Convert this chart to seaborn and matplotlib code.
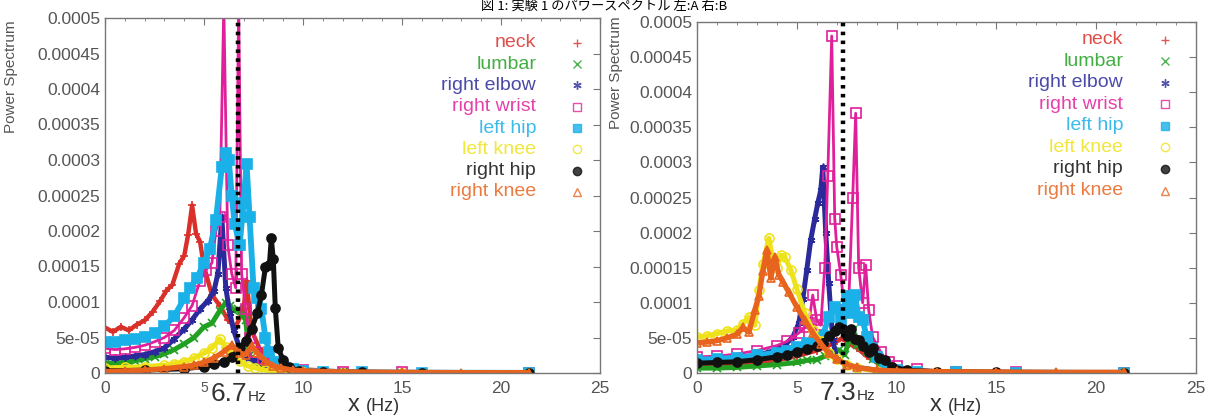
import numpy as np
import matplotlib
matplotlib.use("Agg")
import matplotlib.pyplot as plt
import seaborn as sns

# series names, colours and gnuplot-like point types
names = ["neck", "lumbar", "right elbow", "right wrist",
         "left hip", "left knee", "right hip", "right knee"]
colors = ["#d9302a", "#22a022", "#2a2a9a", "#e0209a",
          "#1ab0e8", "#eee21a", "#111111", "#e8641e"]
markers = ["+", "x", (6, 2, 0), "s", "s", "o", "o", "^"]
filled = [True, True, True, False, True, False, True, False]
widths = [3.2, 3.6, 3.6, 2.0, 4.2, 3.6, 3.6, 3.8]

# ---- panel A (left), power in units of 1e-5 ----
fa_neck = [0, 0.4, 0.8, 1.2, 1.6, 2.0, 2.4, 2.8, 3.1, 3.4, 3.75, 4.0, 4.2, 4.4, 4.6, 4.8, 5.0, 5.4, 5.8, 6.2, 6.6, 7.0, 7.15, 7.4, 7.8, 8.4, 9.0, 10, 12, 15, 18, 21.4]
pa_neck = [6.4, 5.8, 6.5, 6.0, 6.8, 7.4, 8.6, 10.2, 11.6, 12.4, 15.4, 16.5, 19.5, 23.6, 19.6, 18.5, 15.0, 11.0, 9.5, 7.5, 6.5, 9.0, 13.0, 6.0, 3.5, 1.8, 1.0, 0.5, 0.2, 0.1, 0.05, 0.03]
fa_lumbar = [0, 0.5, 1.0, 1.5, 2.0, 2.5, 3.0, 3.5, 4.0, 4.5, 5.0, 5.4, 5.8, 6.1, 6.3, 6.5, 6.7, 6.9, 7.1, 7.3, 7.6, 8.0, 8.5, 9, 10, 12, 15, 21.4]
pa_lumbar = [1.3, 1.4, 1.5, 1.7, 2.0, 2.3, 2.7, 3.3, 4.1, 5.0, 6.5, 7.0, 8.8, 9.9, 9.5, 8.8, 9.0, 8.2, 7.5, 2.5, 1.5, 0.9, 0.5, 0.3, 0.2, 0.1, 0.05, 0.02]
fa_elbow = [0, 0.5, 1.0, 1.5, 2.0, 2.5, 3.0, 3.5, 4.0, 4.4, 4.8, 5.2, 5.5, 5.7, 5.9, 6.1, 6.3, 6.5, 6.8, 7.1, 7.5, 7.9, 8.3, 9, 10, 12, 15, 21.4]
pa_elbow = [2.2, 2.1, 2.2, 2.4, 2.6, 3.0, 3.5, 4.8, 6.2, 7.5, 9.0, 10.2, 11.5, 14.0, 22.0, 12.0, 8.5, 6.0, 3.5, 2.2, 1.8, 1.5, 0.8, 0.4, 0.2, 0.1, 0.05, 0.02]
fa_wrist = [0, 0.5, 1.0, 1.5, 2.0, 2.5, 3.0, 3.5, 4.0, 4.4, 4.8, 5.1, 5.4, 5.6, 5.8, 6.0, 6.2, 6.4, 6.6, 6.75, 6.9, 7.1, 7.3, 7.6, 8.0, 8.5, 9, 10, 12, 15, 21.4]
pa_wrist = [3.5, 3.3, 3.4, 3.6, 3.9, 4.4, 5.0, 6.0, 7.8, 9.5, 13.0, 14.5, 15.5, 20.0, 22.0, 52.0, 18.0, 14.0, 12.0, 52.0, 14.0, 9.0, 5.0, 3.0, 2.0, 1.2, 0.8, 0.4, 0.2, 0.1, 0.05]
fa_lhip = [0, 0.5, 1.0, 1.5, 2.0, 2.5, 3.0, 3.5, 4.0, 4.3, 4.65, 5.0, 5.3, 5.6, 5.9, 6.1, 6.25, 6.4, 6.55, 6.8, 7.0, 7.15, 7.3, 7.5, 7.7, 7.9, 8.1, 8.3, 8.6, 9.0, 9.5, 10, 11, 13, 16, 21.4]
pa_lhip = [4.4, 4.3, 4.6, 4.8, 5.1, 5.6, 6.6, 8.0, 10.5, 12.0, 13.4, 15.5, 17.5, 21.5, 29.0, 31.0, 30.0, 25.0, 21.0, 18.0, 24.0, 29.5, 22.0, 12.0, 10.5, 9.0, 5.0, 3.0, 1.5, 0.8, 0.5, 0.3, 0.2, 0.1, 0.05, 0.02]
fa_lknee = [0, 1.0, 2.0, 3.0, 3.5, 4.0, 4.5, 5.0, 5.4, 5.8, 6.1, 6.4, 6.8, 7.2, 7.6, 8.1, 9, 10, 12, 15, 21.4]
pa_lknee = [0.7, 0.8, 0.9, 1.1, 1.3, 1.6, 2.1, 2.8, 3.5, 4.8, 3.6, 2.6, 1.7, 1.0, 0.7, 0.4, 0.2, 0.1, 0.05, 0.02, 0.01]
fa_rhip = [0, 2, 4, 5, 5.5, 6.0, 6.4, 6.8, 7.1, 7.4, 7.7, 7.9, 8.1, 8.3, 8.4, 8.5, 8.6, 8.75, 9.0, 9.3, 9.8, 11, 13, 16, 21.4]
pa_rhip = [0.3, 0.4, 0.6, 0.9, 1.2, 1.6, 2.2, 3.5, 4.5, 6.2, 8.5, 11.0, 14.9, 15.2, 19.0, 16.0, 9.2, 3.5, 1.8, 0.8, 0.3, 0.15, 0.08, 0.04, 0.02]
fa_rknee = [0, 1, 2, 3, 4, 4.5, 5.0, 5.5, 6.0, 6.4, 6.8, 7.1, 7.4, 7.7, 8.1, 8.5, 8.9, 9.5, 10, 12, 15, 18, 21.4]
pa_rknee = [0.2, 0.3, 0.4, 0.6, 0.9, 1.1, 1.5, 2.1, 3.0, 3.9, 2.8, 2.6, 3.8, 2.8, 1.7, 1.0, 0.7, 0.4, 0.3, 0.15, 0.1, 0.05, 0.05]

# ---- panel B (right), power in units of 1e-5 ----
fb_neck = [0, 2, 4, 5, 6, 6.5, 7.0, 7.3, 7.6, 8.0, 8.5, 9, 10, 12, 15, 21.4]
pb_neck = [1.2, 1.3, 1.8, 2.4, 3.2, 3.8, 4.5, 5.0, 4.2, 3.6, 2.4, 1.5, 0.5, 0.2, 0.1, 0.05]
fb_lumbar = [0, 1, 2, 3, 4, 5, 5.5, 6.0, 6.4, 6.8, 7.1, 7.4, 7.6, 7.8, 8.0, 8.2, 8.5, 8.8, 9.2, 9.6, 10, 11, 13, 16, 21.4]
pb_lumbar = [0.7, 0.7, 0.8, 1.0, 1.2, 1.5, 1.8, 1.9, 2.4, 3.0, 3.3, 2.6, 4.5, 6.1, 4.0, 3.7, 3.0, 2.0, 1.2, 0.6, 0.4, 0.2, 0.1, 0.05, 0.02]
fb_elbow = [0, 1, 2, 3, 3.5, 4.0, 4.4, 4.8, 5.1, 5.3, 5.5, 5.7, 5.9, 6.05, 6.2, 6.3, 6.45, 6.6, 6.8, 7.0, 7.4, 8.0, 9.0, 10, 12, 15, 21.4]
pb_elbow = [1.8, 1.9, 2.1, 2.5, 2.9, 3.3, 4.0, 5.1, 7.1, 10.5, 14.7, 19.0, 22.0, 24.2, 26.0, 29.3, 20.0, 12.8, 4.7, 2.0, 1.3, 0.8, 0.4, 0.2, 0.1, 0.05, 0.02]
fb_wrist = [0, 1, 2, 3, 4, 4.5, 5.1, 5.4, 5.6, 5.8, 6.0, 6.2, 6.4, 6.55, 6.75, 6.9, 7.0, 7.2, 7.4, 7.6, 7.8, 7.95, 8.1, 8.3, 8.45, 8.6, 8.8, 9.2, 9.6, 10, 11, 13, 16, 21.4]
pb_wrist = [2.3, 2.4, 2.7, 3.2, 3.9, 4.5, 5.7, 6.5, 7.1, 11.1, 7.5, 6.8, 15.0, 28.0, 48.0, 22.0, 18.0, 14.0, 9.0, 10.0, 25.0, 37.0, 15.0, 10.0, 15.4, 9.0, 5.1, 3.0, 1.5, 1.0, 0.5, 0.2, 0.1, 0.05]
fb_lhip = [0, 1, 2, 3, 4, 4.5, 5.0, 5.5, 6.0, 6.3, 6.6, 6.9, 7.2, 7.5, 7.7, 7.9, 8.1, 8.3, 8.5, 8.7, 9.0, 9.4, 10, 11, 13, 16, 21.4]
pb_lhip = [1.9, 2.0, 2.2, 2.5, 2.9, 3.2, 3.7, 4.3, 5.0, 5.3, 8.0, 9.4, 7.5, 11.0, 8.5, 11.1, 8.0, 7.6, 5.1, 3.5, 2.3, 1.0, 0.4, 0.2, 0.1, 0.05, 0.02]
fb_lknee = [0, 0.5, 1.0, 1.5, 2.0, 2.3, 2.6, 2.9, 3.1, 3.3, 3.6, 3.8, 4.0, 4.2, 4.4, 4.7, 5.0, 5.4, 5.8, 6.2, 6.6, 7.0, 7.5, 8.0, 9.0, 10, 12, 15, 21.4]
pb_lknee = [5.1, 5.3, 5.6, 6.0, 6.1, 7.0, 8.0, 6.8, 11.8, 15.5, 19.2, 16.0, 15.0, 16.8, 16.5, 14.7, 12.0, 8.5, 6.1, 4.5, 2.8, 2.0, 1.1, 0.7, 0.3, 0.2, 0.1, 0.05, 0.02]
fb_rhip = [0, 1, 2, 3, 4, 4.5, 5.0, 5.5, 6.0, 6.3, 6.6, 6.9, 7.1, 7.3, 7.5, 7.7, 7.9, 8.1, 8.3, 8.6, 8.8, 9.1, 9.4, 9.75, 10.5, 12, 15, 21.4]
pb_rhip = [1.4, 1.5, 1.6, 1.9, 2.3, 2.6, 3.0, 3.4, 3.8, 4.3, 5.2, 6.0, 6.6, 6.3, 5.2, 6.2, 4.8, 4.7, 3.8, 3.0, 3.5, 2.1, 1.8, 0.9, 0.4, 0.2, 0.1, 0.05]
fb_rknee = [0, 0.5, 1.0, 1.5, 2.0, 2.3, 2.6, 2.9, 3.1, 3.3, 3.5, 3.7, 3.9, 4.1, 4.3, 4.6, 5.0, 5.4, 5.8, 6.2, 6.6, 7.0, 7.5, 8.0, 9.0, 10, 12, 15, 18, 21.4]
pb_rknee = [4.3, 4.4, 4.6, 5.0, 5.5, 6.5, 5.8, 9.0, 11.0, 14.5, 17.5, 13.5, 16.5, 14.0, 13.0, 11.5, 9.4, 7.5, 5.7, 4.2, 2.8, 2.0, 1.2, 0.8, 0.4, 0.3, 0.2, 0.15, 0.1, 0.1]

panel_a = [(fa_neck, pa_neck), (fa_lumbar, pa_lumbar), (fa_elbow, pa_elbow), (fa_wrist, pa_wrist),
           (fa_lhip, pa_lhip), (fa_lknee, pa_lknee), (fa_rhip, pa_rhip), (fa_rknee, pa_rknee)]
panel_b = [(fb_neck, pb_neck), (fb_lumbar, pb_lumbar), (fb_elbow, pb_elbow), (fb_wrist, pb_wrist),
           (fb_lhip, pb_lhip), (fb_lknee, pb_lknee), (fb_rhip, pb_rhip), (fb_rknee, pb_rknee)]

peak_a = 6.7
peak_b = 7.3
yticks = [0, 5e-5, 1e-4, 1.5e-4, 2e-4, 2.5e-4, 3e-4, 3.5e-4, 4e-4, 4.5e-4, 5e-4]
ytick_labels = ["0", "5e-05", "0.0001", "0.00015", "0.0002", "0.00025",
                "0.0003", "0.00035", "0.0004", "0.00045", "0.0005"]
xticks = [0, 5, 10, 15, 20, 25]

sns.set_theme(style="white")
plt.rcParams["font.family"] = ["Liberation Sans", "Noto Sans CJK JP", "DejaVu Sans"]

fig = plt.figure(figsize=(12.08, 4.16), dpi=100)
ax_a = fig.add_axes([105 / 1208, 1 - 373 / 416, 495 / 1208, 355 / 416])
ax_b = fig.add_axes([697 / 1208, 1 - 373 / 416, 499 / 1208, 351 / 416])

gray = "#555555"


def draw_panel(ax, series, peak, leg_x, mark_x, leg_y0, leg_dy):
    for (f, p), name, c, m, fl, w in zip(series, names, colors, markers, filled, widths):
        ms = 6.5 if m in ("s", "o") else 5.5
        sns.lineplot(x=f, y=np.array(p) * 1e-5, ax=ax, color=c, lw=w,
                     marker=m, markersize=ms, markeredgewidth=1.2,
                     markerfacecolor=c if fl else "none", markeredgecolor=c)
    ax.axvline(peak, color="black", lw=3.2, linestyle=(0, (0.8, 1.2)), zorder=5)
    ax.set_xlim(0, 25)
    ax.set_ylim(0, 5e-4)
    ax.set_xticks(xticks)
    ax.set_xticks(np.arange(0, 26, 1), minor=True)
    ax.set_yticks(yticks)
    ax.set_yticklabels(ytick_labels)
    ax.tick_params(which="both", direction="in", top=True, right=True,
                   color="#777777", labelcolor=gray, labelsize=12.5)
    ax.tick_params(which="major", length=5, width=0.8)
    ax.tick_params(which="minor", length=2.5, width=0.6)
    ax.tick_params(axis="x", pad=6)
    for s in ax.spines.values():
        s.set_color("#777777")
        s.set_linewidth(1.0)
    ax.set_xlabel("")
    ax.set_ylabel("Power Spectrum", color=gray, fontsize=11)
    # legend: coloured labels, right aligned, marker on the right
    for i, (name, c, m, fl) in enumerate(zip(names, colors, markers, filled)):
        y = leg_y0 - i * leg_dy
        ax.text(leg_x, y, name, transform=ax.transAxes, ha="right", va="center",
                color=c, fontsize=14, alpha=0.85)
        ax.plot([mark_x], [y], transform=ax.transAxes, marker=m, ls="none",
                markersize=6, color=c, markerfacecolor=c if fl else "none",
                alpha=0.8, clip_on=False)


draw_panel(ax_a, panel_a, peak_a, 0.871, 0.954, 0.930, 0.060)
draw_panel(ax_b, panel_b, peak_b, 0.854, 0.938, 0.949, 0.0613)

ax_a.yaxis.set_label_coords(-0.176, 0.834)
ax_b.yaxis.set_label_coords(-0.148, 0.857)

# the small "5" next to the peak label in panel A
for lab in ax_a.get_xticklabels():
    if lab.get_text() == "5":
        lab.set_fontsize(10)

# peak frequency labels below the axes
for ax, peak, edge in [(ax_a, peak_a, 7.2), (ax_b, peak_b, 8.0)]:
    tr = ax.get_xaxis_transform()
    ax.text(edge, -0.078, f"{peak}", transform=tr, ha="right", va="baseline",
            fontsize=19, color="#333333")
    ax.text(edge, -0.078, "Hz", transform=tr, ha="left", va="baseline",
            fontsize=11, color="#333333")

# x axis labels
for x0 in (348, 930):
    fig.text(x0 / 1208, 1 - 411 / 416, "x", ha="left", va="baseline",
             fontsize=17, color="#333333")
    fig.text((x0 + 18) / 1208, 1 - 411 / 416, "(Hz)", ha="left", va="baseline",
             fontsize=13, color="#333333")

# title at the very top edge
fig.text(0.5, 1.0, "図 1: 実験 1 のパワースペクトル 左:A 右:B",
         ha="center", va="top", fontsize=9.5, color="black",
         family=["Noto Sans CJK JP", "DejaVu Sans"])

fig.savefig("out.png", dpi=100, facecolor="white")
